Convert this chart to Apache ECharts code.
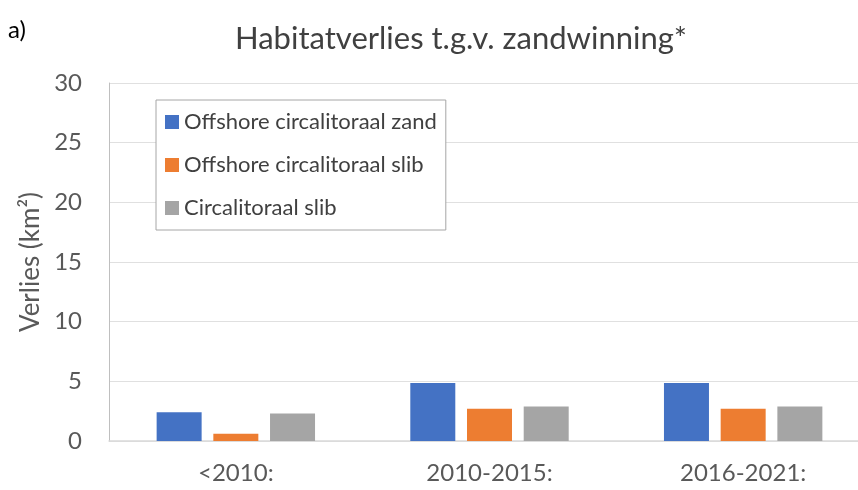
<!DOCTYPE html>
<html>
<head>
<meta charset="utf-8">
<script src="https://cdn.jsdelivr.net/npm/echarts@6/dist/echarts.min.js"></script>
<style>
  html, body { margin: 0; padding: 0; background: #fff; }
  #chart { width: 858px; height: 490px; }
</style>
</head>
<body>
<div id="chart"></div>
<script>
const categories = ['<2010:', '2010-2015:', '2016-2021:']
const seriesNames = ['Offshore circalitoraal zand', 'Offshore circalitoraal slib', 'Circalitoraal slib']
const zandValues = [2.4, 4.85, 4.85]
const offSlibValues = [0.6, 2.7, 2.7]
const slibValues = [2.3, 2.9, 2.9]
const colors = ['#4472C4', '#ED7D31', '#A5A5A5']

const font = 'Lato, "Open Sans", sans-serif'
const chart = echarts.init(document.getElementById('chart'))

const bar = (name, data, color) => ({
  name,
  type: 'bar',
  data,
  barWidth: 45,
  barGap: '26%',
  itemStyle: { color }
})

chart.setOption({
  animation: false,
  title: [
    {
      text: 'Habitatverlies t.g.v. zandwinning*',
      left: 461, top: 23, textAlign: 'center', padding: 0,
      textStyle: { fontFamily: font, fontSize: 31, fontWeight: 'normal', color: '#404040' }
    },
    {
      text: 'a)',
      left: 8, top: 18, padding: 0,
      textStyle: { fontFamily: font, fontSize: 24, fontWeight: 'normal', color: '#000' }
    }
  ],
  legend: {
    orient: 'vertical',
    left: 156, top: 100,
    padding: [11, 9, 11, 9],
    itemGap: 21,
    itemWidth: 14, itemHeight: 14,
    icon: 'rect',
    borderColor: '#a6a6a6', borderWidth: 1,
    backgroundColor: '#fff',
    textStyle: { fontFamily: font, fontSize: 22, lineHeight: 22, color: '#404040' },
    data: seriesNames
  },
  grid: { left: 109, right: -12, top: 83, bottom: 49, outerBoundsMode: 'none' },
  xAxis: {
    type: 'category',
    data: categories,
    axisLine: { lineStyle: { color: '#d9d9d9', width: 1.5 } },
    axisTick: { show: false },
    axisLabel: { fontFamily: font, fontSize: 24, color: '#595959', margin: 20 }
  },
  yAxis: {
    type: 'value',
    min: 0, max: 30, interval: 5,
    name: 'Verlies (km²)',
    nameLocation: 'middle',
    nameGap: 65,
    nameTextStyle: { fontFamily: font, fontSize: 26, color: '#595959' },
    axisLine: { show: true, lineStyle: { color: '#bfbfbf' } },
    axisTick: { show: false },
    axisLabel: { fontFamily: font, fontSize: 24, color: '#595959', margin: 27 },
    splitLine: { lineStyle: { color: '#e0e0e0' } }
  },
  series: [
    bar(seriesNames[0], zandValues, colors[0]),
    bar(seriesNames[1], offSlibValues, colors[1]),
    bar(seriesNames[2], slibValues, colors[2])
  ]
})
</script>
</body>
</html>
